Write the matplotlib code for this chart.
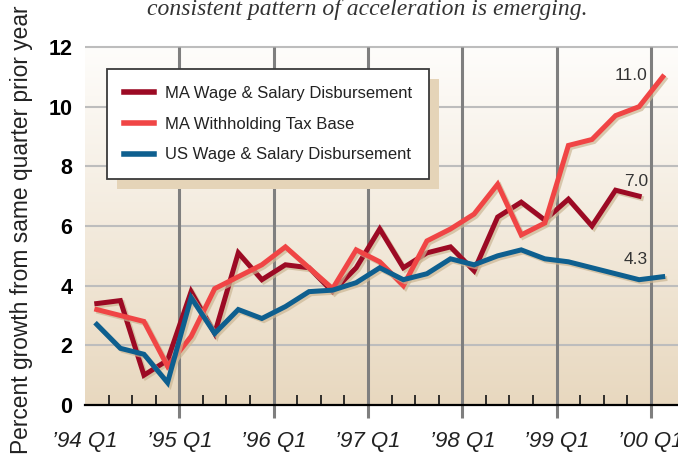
import matplotlib
matplotlib.use("Agg")
import matplotlib.pyplot as plt
import matplotlib.patheffects as pe
from matplotlib.colors import LinearSegmentedColormap
from matplotlib.patches import Rectangle
import numpy as np

# quarterly growth, '94 Q1 .. '00 Q1
ma_wage = [3.4, 3.5, 1.0, 1.5, 3.8, 2.4, 5.1, 4.2, 4.7, 4.6, 3.8, 4.6,
           5.9, 4.6, 5.1, 5.3, 4.5, 6.3, 6.8, 6.2, 6.9, 6.0, 7.2, 7.0]
ma_withholding = [3.2, 3.0, 2.8, 1.3, 2.3, 3.9, 4.3, 4.7, 5.3, 4.6, 3.9, 5.2,
                  4.8, 4.0, 5.5, 5.9, 6.4, 7.4, 5.7, 6.1, 8.7, 8.9, 9.7, 10.0, 11.0]
us_wage = [2.7, 1.9, 1.7, 0.75, 3.6, 2.4, 3.2, 2.9, 3.3, 3.8, 3.85, 4.1,
           4.6, 4.2, 4.4, 4.9, 4.7, 5.0, 5.2, 4.9, 4.8, 4.6, 4.4, 4.2, 4.3]

year_labels = ["\u201994 Q1", "\u201995 Q1", "\u201996 Q1", "\u201997 Q1",
               "\u201998 Q1", "\u201999 Q1", "\u201900 Q1"]
end_labels = ["11.0", "7.0", "4.3"]

series = [
    ("MA Wage & Salary Disbursement", ma_wage, "#9c0a24"),
    ("MA Withholding Tax Base", ma_withholding, "#f04545"),
    ("US Wage & Salary Disbursement", us_wage, "#0e5f8f"),
]

W, H = 678, 455
fig = plt.figure(figsize=(W / 100, H / 100), dpi=100)
ax = fig.add_axes([85 / W, 50 / H, (W - 85) / W, 358 / H])
ax.set_facecolor("none")

xmax = (W - 85) / 23.58
ax.set_xlim(0, xmax)
ax.set_ylim(0, 12)

# background gradient
cmap = LinearSegmentedColormap.from_list("bg", ["#e8d8bf", "#fefdfb"])
ax.imshow(np.linspace(0, 1, 256).reshape(-1, 1), extent=[0, xmax, 0, 12],
          aspect="auto", cmap=cmap, origin="lower", zorder=0)

# grid
ax.hlines(np.arange(2, 13, 2), 0, xmax, colors="#bdbdbd", lw=1.5, zorder=1, clip_on=False)
major = np.arange(0, 25, 4)
ax.vlines(major[1:], -0.45, 12, colors="#7f7f7f", lw=2.2, zorder=1, clip_on=False)

for name, vals, color in series:
    x = np.arange(len(vals)) + 0.5
    ax.plot(x, vals, color=color, lw=3.6, solid_joinstyle="miter", zorder=3,
            label=name,
            path_effects=[pe.SimpleLineShadow(offset=(1.5, -1.5), shadow_color="#cbb693", alpha=0.7),
                          pe.Normal()])

# end values
ann_font = dict(family=["Liberation Sans", "DejaVu Sans"], fontsize=12.5, color="#333333",
                ha="right", va="center")
ax.text(23.83, 11.06, end_labels[0], **ann_font)
ax.text(23.88, 7.48, end_labels[1], **ann_font)
ax.text(23.88, 4.89, end_labels[2], **ann_font)

# axes styling
for s in ["top", "right", "left"]:
    ax.spines[s].set_visible(False)
ax.spines["bottom"].set_linewidth(1.6)
ax.spines["bottom"].set_zorder(4)

ax.set_yticks(np.arange(0, 13, 2))
ax.set_yticklabels([str(v) for v in range(0, 13, 2)],
                   family=["Liberation Sans", "DejaVu Sans"], fontweight="bold", fontsize=15.5)
ax.tick_params(axis="y", length=0, pad=9)

ax.set_xticks(major)
ax.set_xticklabels(year_labels, family=["Liberation Sans Narrow", "Liberation Sans", "DejaVu Sans"],
                   style="italic", fontsize=16, color="#222222")
ax.set_xticks([q for q in range(1, 25) if q % 4], minor=True)
ax.tick_params(axis="x", which="major", length=0, pad=19)
ax.tick_params(axis="x", which="minor", direction="in", length=7, width=1.2, color="#111111")

# legend with offset shadow
leg = ax.legend(loc="upper left", bbox_to_anchor=(107 / W, 1 - 69 / H),
                bbox_transform=fig.transFigure, borderaxespad=0,
                prop=dict(family=["Liberation Sans", "DejaVu Sans"], size=12),
                handlelength=1.8, handletextpad=0.7, labelspacing=0.95,
                borderpad=1.0, fancybox=False, framealpha=1,
                edgecolor="#3a3a3a", facecolor="white")
leg.get_frame().set_linewidth(1.3)
leg.set_zorder(6)
for t in leg.get_texts():
    t.set_color("#222222")
for h in leg.get_lines():
    h.set_linewidth(4)
    h.set_path_effects([])

fig.canvas.draw()
bb = leg.get_window_extent().transformed(fig.transFigure.inverted())
ax.add_patch(Rectangle((bb.x0 + 10 / W, bb.y0 - 10 / H), bb.width, bb.height,
                       transform=fig.transFigure, facecolor="#e5d4b8", edgecolor="none",
                       zorder=5, clip_on=False))

fig.text(22 / W, 1 - 229.5 / H, "Percent growth from same quarter prior year",
         rotation=90, ha="center", va="center", fontsize=16.4,
         family=["Liberation Sans", "DejaVu Sans"], color="#222222")
fig.text(367 / W, 1 - 15 / H, "consistent pattern of acceleration is emerging.",
         ha="center", va="baseline", fontsize=17, style="italic",
         family=["Liberation Serif", "DejaVu Serif"], color="#333333")

fig.savefig("out.png", dpi=100)
